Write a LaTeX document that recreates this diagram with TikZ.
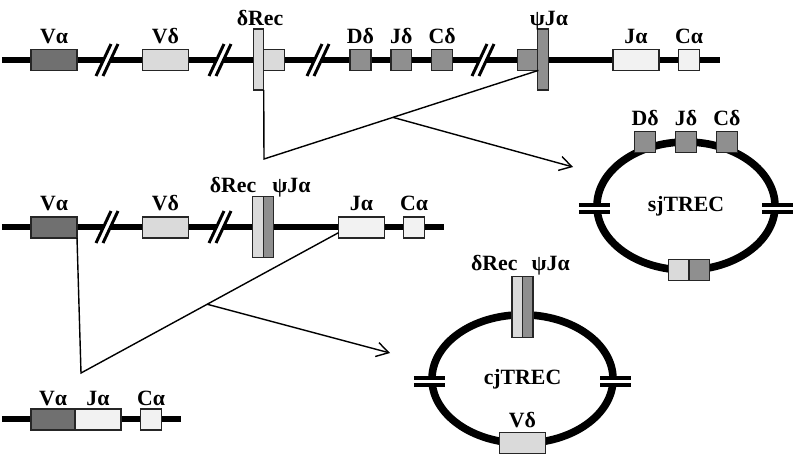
\documentclass[tikz,border=0pt]{standalone}
\usepackage{fontspec}
\setmainfont{Liberation Serif}
\usepackage{xcolor}
\usetikzlibrary{shapes,arrows,positioning,calc,arrows.meta}

\definecolor{darkgene}{HTML}{707070}
\definecolor{midgene}{HTML}{8F8F8F}
\definecolor{lightgene}{HTML}{DADADA}
\definecolor{palegene}{HTML}{F2F2F2}

\tikzset{
  gene/.style={draw=black!85, line width=0.9pt, rectangle, inner sep=0pt, minimum height=0.52cm},
  genelong/.style={gene, minimum width=1.15cm},
  geneshort/.style={gene, minimum width=0.52cm},
  genetall/.style={gene, minimum width=0.26cm, minimum height=1.52cm},
  lbl/.style={font=\bfseries\fontsize{15.5}{17}\selectfont, anchor=base, inner sep=0pt},
  chrom/.style={line width=4.8pt},
  ring/.style={draw, ellipse, line width=5.4pt, inner sep=0pt, font=\bfseries\fontsize{15.5}{17}\selectfont},
  conn/.style={line width=1pt},
  arr/.style={conn, -{Straight Barb[length=3mm, width=3.6mm]}},
  slashline/.style={line width=2.1pt}
}

\begin{document}
\begin{tikzpicture}[x=0.025cm, y=-0.025cm, node distance=0cm, outer sep=0pt]
    \useasboundingbox (0,0) rectangle (797,461);

    % Chromosome lines
    \draw[chrom] (2,60) -- (720,60);
    \draw[chrom] (2,227) -- (444,227);
    \draw[chrom] (2,419) -- (181,419);

    % Breaks
    \foreach \sx/\sy in {107/60, 220/60, 318/60, 483/60, 107/227, 220/227} {
        \draw[white, line width=3pt] (\sx-2.5,\sy+5.5) -- (\sx+2.5,\sy-5.5);
        \draw[slashline] (\sx-11,\sy+16) -- (\sx+4,\sy-16);
        \draw[slashline] (\sx-4,\sy+16) -- (\sx+11,\sy-16);
    }

    % Germline locus
    \node [genelong, fill=darkgene] (VaA) at (54,60) {};
    \node [genelong, fill=lightgene] (VdA) at (165.5,60) {};
    \node [geneshort, fill=lightgene] (RecBoxA) at (274,60) {};
    \node [genetall, fill=lightgene] (RecA) at (258.5,59.5) {};
    \node [geneshort, fill=midgene] (DdA) at (360.5,60) {};
    \node [geneshort, fill=midgene, right=0.5cm of DdA] (JdA) {};
    \node [geneshort, fill=midgene, right=0.5cm of JdA] (CdA) {};
    \node [geneshort, fill=midgene] (PsiBoxA) at (528,60) {};
    \node [genetall, fill=midgene] (PsiA) at (543,59.5) {};
    \node [genelong, fill=palegene] (JaA) at (636,60) {};
    \node [geneshort, fill=palegene] (CaA) at (689,60) {};

    \node [lbl] at ([yshift=0.14cm]VaA.north) {Vα};
    \node [lbl] at ([yshift=0.14cm]VdA.north) {Vδ};
    \node [lbl] at ([xshift=0.04cm, yshift=0.1cm]RecA.north) {δRec};
    \node [lbl] at ([yshift=0.14cm]DdA.north) {Dδ};
    \node [lbl] at ([yshift=0.14cm]JdA.north) {Jδ};
    \node [lbl] at ([yshift=0.14cm]CdA.north) {Cδ};
    \node [lbl] at ([xshift=0.15cm, yshift=0.1cm]PsiA.north) {ψJα};
    \node [lbl] at ([yshift=0.14cm]JaA.north) {Jα};
    \node [lbl] at ([yshift=0.14cm]CaA.north) {Cα};

    % After delta deletion
    \node [genelong, fill=darkgene] (VaB) at (54,227.5) {};
    \node [genelong, fill=lightgene] (VdB) at (165.5,227.5) {};
    \node [genetall, fill=lightgene] (RecB) at (258,227) {};
    \node [genetall, fill=midgene, right=0pt of RecB] (PsiB) {};
    \node [genelong, fill=palegene] (JaB) at (361.5,227.5) {};
    \node [geneshort, fill=palegene] (CaB) at (414,227.5) {};

    \node [lbl] at ([yshift=0.16cm]VaB.north) {Vα};
    \node [lbl] at ([yshift=0.16cm]VdB.north) {Vδ};
    \node [lbl] at ([xshift=-0.625cm, yshift=0.1cm]RecB.north) {δRec};
    \node [lbl] at ([xshift=0.575cm, yshift=0.1cm]PsiB.north) {ψJα};
    \node [lbl] at ([yshift=0.16cm]JaB.north) {Jα};
    \node [lbl] at ([yshift=0.16cm]CaB.north) {Cα};

    % VJ rearranged
    \node [genelong, minimum width=1.1cm, fill=darkgene] (VaC) at (53,419.5) {};
    \node [genelong, fill=palegene, right=0pt of VaC] (JaC) {};
    \node [geneshort, fill=palegene] (CaC) at (151,419.5) {};

    \node [lbl] at ([yshift=0.1cm]VaC.north) {Vα};
    \node [lbl] at ([yshift=0.1cm]JaC.north) {Jα};
    \node [lbl] at ([yshift=0.1cm]CaC.north) {Cα};

    % Excision circles
    \node [ring, minimum width=4.45cm, minimum height=3.2cm] (sjRing) at (686,206) {sjTREC};
    \node [ring, minimum width=4.525cm, minimum height=3.21cm] (cjRing) at (522.5,379) {cjTREC};

    \foreach \r in {sjRing, cjRing} {
        \draw[white, line width=2.4pt] ([shift={(-8,2.5)}]\r.west) -- ([shift={(8,2.5)}]\r.west);
        \draw[white, line width=2.4pt] ([shift={(-8,2.5)}]\r.east) -- ([shift={(8,2.5)}]\r.east);
        \draw[slashline, line width=2.6pt] ([shift={(-18,-0.8)}]\r.west) -- ([shift={(13,-0.8)}]\r.west);
        \draw[slashline, line width=2.6pt] ([shift={(-18,5.8)}]\r.west) -- ([shift={(13,5.8)}]\r.west);
        \draw[slashline, line width=2.6pt] ([shift={(-13,-0.8)}]\r.east) -- ([shift={(18,-0.8)}]\r.east);
        \draw[slashline, line width=2.6pt] ([shift={(-13,5.8)}]\r.east) -- ([shift={(18,5.8)}]\r.east);
    }

    % sjTREC segments
    \node [geneshort, fill=midgene] (sjJd) at (sjRing.north) {};
    \node [geneshort, fill=midgene, left=0.5cm of sjJd] (sjDd) {};
    \node [geneshort, fill=midgene, right=0.5cm of sjJd] (sjCd) {};
    \node [geneshort, fill=lightgene, anchor=east] (sjRec) at ([xshift=0.075cm]sjRing.south) {};
    \node [geneshort, fill=midgene, right=0pt of sjRec] (sjPsi) {};

    \node [lbl] at ([yshift=0.14cm]sjDd.north) {Dδ};
    \node [lbl] at ([yshift=0.14cm]sjJd.north) {Jδ};
    \node [lbl] at ([yshift=0.14cm]sjCd.north) {Cδ};

    % cjTREC segments
    \node [genetall, fill=lightgene, anchor=east] (cjRec) at ([yshift=0.2cm]cjRing.north) {};
    \node [genetall, fill=midgene, right=0pt of cjRec] (cjPsi) {};
    \node [genelong, fill=lightgene] (cjVd) at (cjRing.south) {};

    \node [lbl] at ([xshift=-0.575cm, yshift=0.14cm]cjRec.north) {δRec};
    \node [lbl] at ([xshift=0.575cm, yshift=0.14cm]cjPsi.north) {ψJα};
    \node [lbl] at ([yshift=0.14cm]cjVd.north) {Vδ};

    % Arrows
    \coordinate (topKnee) at (264,159);
    \coordinate (sjIn) at (573,167);
    \draw[conn] (RecA.south east) -- (topKnee) -- (PsiBoxA.south east) coordinate[pos=0.47] (topFork);
    \draw[arr] (topFork) -- (sjIn);

    \coordinate (midKnee) at (81,373);
    \coordinate (cjIn) at (390,353);
    \draw[conn] (VaB.south east) -- (midKnee) -- ($(JaB.west)!0.5!(JaB.south west)$) coordinate[pos=0.49] (midFork);
    \draw[arr] (midFork) -- (cjIn);
\end{tikzpicture}
\end{document}
